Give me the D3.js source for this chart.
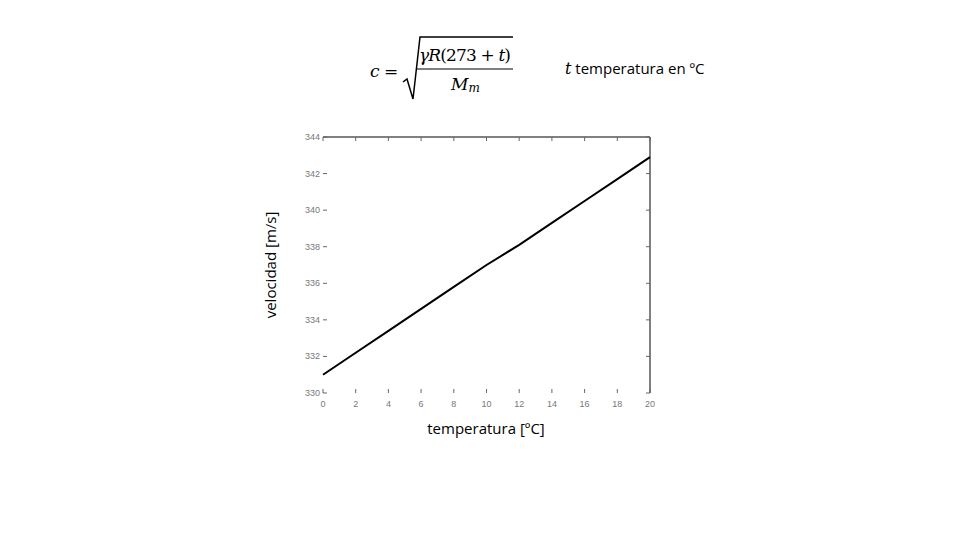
<!DOCTYPE html><html><head><meta charset="utf-8"><script src="https://cdn.jsdelivr.net/npm/d3@7"></script>
<style>body{margin:0;background:#fff}</style></head><body><svg id="c" width="960" height="540"></svg>
<script>
const temps=[0,2,4,6,8,10,12,14,16,18,20];
const speeds=[331.0,332.2,333.4,334.6,335.8,337.0,338.1,339.3,340.5,341.7,342.9];
const xTicks=[0,2,4,6,8,10,12,14,16,18,20];
const yTicks=[330,332,334,336,338,340,342,344];
const svg=d3.select("#c");
const L=323,R=650,T=137,B=393;
const x=d3.scaleLinear().domain([0,20]).range([L,R]);
const y=d3.scaleLinear().domain([330,344]).range([B,T]);
svg.append("line").attr("x1",L).attr("x2",R).attr("y1",T).attr("y2",T).attr("stroke","#000");
svg.append("line").attr("x1",R).attr("x2",R).attr("y1",T).attr("y2",B).attr("stroke","#000");
const g=svg.append("g").attr("font-family","Liberation Sans, Arial").attr("font-size",9).attr("fill","#777");
xTicks.forEach(t=>{
  svg.append("line").attr("x1",x(t)).attr("x2",x(t)).attr("y1",B).attr("y2",B-4).attr("stroke","#666");
  svg.append("line").attr("x1",x(t)).attr("x2",x(t)).attr("y1",T).attr("y2",T+4).attr("stroke","#666");
  g.append("text").attr("x",x(t)).attr("y",B+14).attr("text-anchor","middle").text(t);
});
yTicks.forEach(t=>{
  svg.append("line").attr("x1",L).attr("x2",L+4).attr("y1",y(t)).attr("y2",y(t)).attr("stroke","#666");
  svg.append("line").attr("x1",R).attr("x2",R-4).attr("y1",y(t)).attr("y2",y(t)).attr("stroke","#666");
  g.append("text").attr("x",L-3).attr("y",y(t)+3).attr("text-anchor","end").text(t);
});
svg.append("path").datum(temps.map((t,i)=>[t,speeds[i]]))
 .attr("d",d3.line().x(d=>x(d[0])).y(d=>y(d[1]))).attr("fill","none").attr("stroke","#000").attr("stroke-width",2);
svg.append("text").attr("x",486).attr("y",434).attr("text-anchor","middle").attr("font-family","Open Sans").attr("font-size",15).text("temperatura [ºC]");
svg.append("text").attr("transform","translate(276,265) rotate(-90)").attr("text-anchor","middle").attr("font-family","Open Sans").attr("font-size",15).text("velocidad [m/s]");
const f=svg.append("g").attr("font-family","DejaVu Serif").attr("font-style","italic").attr("font-size",17);
f.append("text").attr("x",370).attr("y",77).text("c");
f.append("text").attr("x",384).attr("y",77).attr("font-style","normal").text("=");
svg.append("path").attr("d","M403,82 L407,79 L413,99 L420,37 L513,37").attr("fill","none").attr("stroke","#000").attr("stroke-width",1.5);
f.append("text").attr("x",419).attr("y",61).attr("textLength",92).html('γR<tspan font-style="normal">(273 + </tspan>t<tspan font-style="normal">)</tspan>');
svg.append("line").attr("x1",417).attr("x2",513).attr("y1",69).attr("y2",69).attr("stroke","#000").attr("stroke-width",1.2);
f.append("text").attr("x",451).attr("y",90).html('M<tspan font-size="12" dy="2">m</tspan>');
svg.append("text").attr("x",565).attr("y",74).attr("font-family","Open Sans").attr("font-size",15).html('<tspan font-family="DejaVu Serif" font-style="italic" font-size="16">t</tspan> temperatura en ºC');
</script></body></html>
